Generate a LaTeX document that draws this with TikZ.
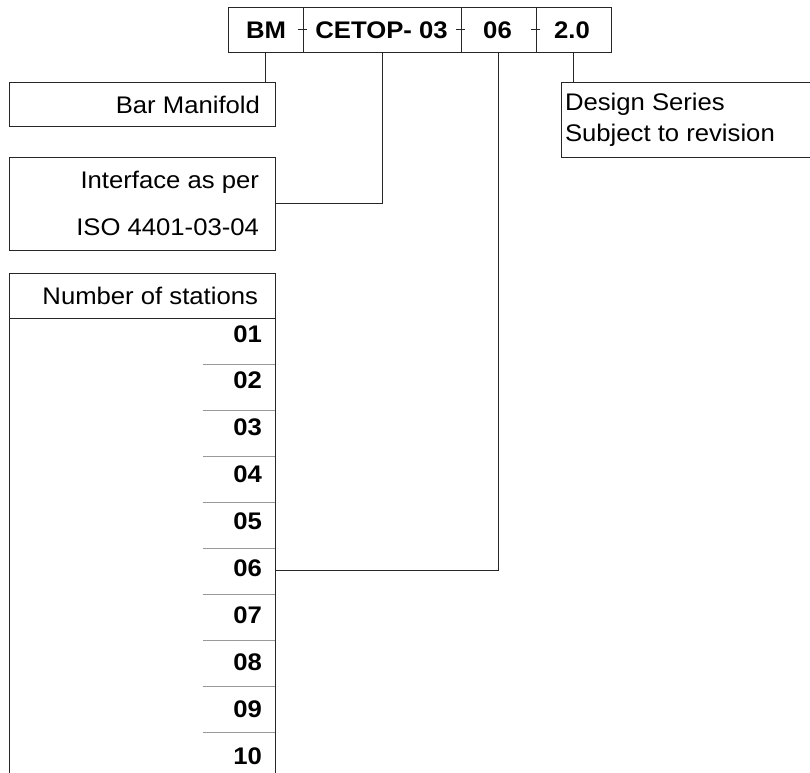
\documentclass[tikz,border=0pt]{standalone}
\usepackage{fontspec}
\setmainfont{Liberation Sans}[FakeStretch=1.07]
\begin{document}
\begin{tikzpicture}[x=1pt,y=-1pt,
  every node/.style={font=\fontsize{24pt}{28pt}\selectfont, inner sep=0pt, outer sep=0pt},
  box/.style={draw=black!85, line width=1pt, rectangle, inner sep=0pt, outer sep=0pt},
  conn/.style={draw=black!85, line width=1pt},
  sep/.style={draw=black!40, line width=1pt},
  code/.style={font=\fontsize{24pt}{28pt}\selectfont\bfseries, anchor=base},
  rlabel/.style={anchor=base east},
  llabel/.style={anchor=base west},
  num/.style={font=\fontsize{24pt}{28pt}\selectfont\bfseries, anchor=base east}]
\useasboundingbox (0,0) rectangle (810,772);
\clip (0,0) rectangle (810,772);
\fill[white] (0,0) rectangle (810,772);

% code cells
\node[box, minimum width=75pt, minimum height=45pt] (c1) at (265.5,29.5) {};
\node[box, minimum width=158pt, minimum height=45pt] (c2) at (382,29.5) {};
\node[box, minimum width=75pt, minimum height=45pt] (c3) at (498.5,29.5) {};
\node[box, minimum width=75pt, minimum height=45pt] (c4) at (573.5,29.5) {};
\node[code] (t1) at (266,38) {BM};
\node[code] (t2) at (381.5,38) {CETOP- 03};
\node[code] (t3) at (497.5,38) {06};
\node[code] (t4) at (572,38) {2.0};
% ticks on dividers
\foreach \c in {c2,c3,c4}{
  \draw[conn] ([xshift=-5pt]\c.west) -- ([xshift=4pt]\c.west);
}

% left boxes
\node[box, minimum width=266pt, minimum height=44pt] (bar) at (142,104) {};
\node[rlabel] (barT) at (260,113) {Bar Manifold};

\node[box, minimum width=266pt, minimum height=93pt] (iface) at (142,203.5) {};
\node[rlabel] (ifT1) at (259,188) {Interface as per};
\node[rlabel] (ifT2) at (259,235) {ISO 4401-03-04};

\node[box, minimum width=266pt, minimum height=627pt] (st) at (142,586.5) {};
\node[rlabel] (stT) at (258,304) {Number of stations};
\coordinate (hdrL) at (9,318);
\coordinate (hdrR) at (275,318);
\draw[conn] (hdrL) -- (hdrR);

\foreach \k [count=\i from 0] in {01,02,03,04,05,06,07,08,09,10}{
  \node[num] (n\k) at (262,{342+46.9*\i}) {\k};
}
\foreach \i in {0,...,8}{
  \coordinate (sl\i) at (203,{364+46*\i});
  \coordinate (sr\i) at (275,{364+46*\i});
  \draw[sep] (sl\i) -- (sr\i);
}
\coordinate (r06) at (275,570);

% design box
\node[box, minimum width=339pt, minimum height=75pt] (design) at (730.5,119.5) {};
\node[llabel] (dT1) at (565,110) {Design Series};
\node[llabel] (dT2) at (565,141) {Subject to revision};

% connectors
\draw[conn] (c1.south) -- (c1.south |- bar.north);
\draw[conn] (c2.south) |- (iface.east);
\draw[conn] (c3.south) |- (r06);
\draw[conn] (c4.south) -- (c4.south |- design.north);
\end{tikzpicture}
\end{document}
